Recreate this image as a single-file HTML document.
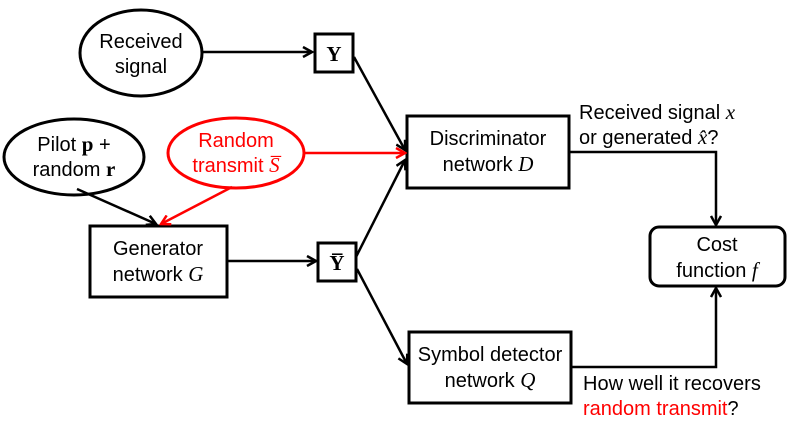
<!DOCTYPE html>
<html><head><style>
body{margin:0;background:#fff;}
svg text{font-family:"Liberation Sans",sans-serif;font-size:20px;}
.m{font-family:"Liberation Serif",serif;font-style:italic;font-size:21px;}
.b{font-family:"Liberation Serif",serif;font-weight:bold;font-size:21px;}
</style></head><body>
<svg width="789" height="424" viewBox="0 0 789 424" xmlns="http://www.w3.org/2000/svg">
<defs>
<marker id="a" markerWidth="12" markerHeight="12" refX="10" refY="6" orient="auto" markerUnits="userSpaceOnUse">
<path d="M1,1 L10,6 L1,11" fill="none" stroke="#000" stroke-width="2.5"/></marker>
<marker id="r" markerWidth="12" markerHeight="12" refX="10" refY="6" orient="auto" markerUnits="userSpaceOnUse">
<path d="M1,1 L10,6 L1,11" fill="none" stroke="#f00" stroke-width="2.5"/></marker>
</defs>
<g fill="none" stroke="#000" stroke-width="3">
<ellipse cx="141" cy="53" rx="61" ry="43"/>
<ellipse cx="74" cy="157" rx="70" ry="38"/>
<ellipse cx="236" cy="153" rx="68" ry="35" stroke="#f00"/>
<rect x="315" y="34" width="38" height="38"/>
<rect x="318" y="243" width="38" height="38"/>
<rect x="90" y="226" width="137" height="71"/>
<rect x="407" y="116" width="162" height="72"/>
<rect x="409" y="332" width="162" height="71"/>
<rect x="650" y="227" width="135" height="59" rx="9"/>
</g>
<g fill="none" stroke="#000" stroke-width="2.5">
<line x1="203" y1="52" x2="312" y2="52" marker-end="url(#a)"/>
<line x1="354" y1="57" x2="405" y2="150" marker-end="url(#a)"/>
<line x1="356" y1="257" x2="405" y2="160" marker-end="url(#a)"/>
<line x1="357" y1="269" x2="407" y2="364" marker-end="url(#a)"/>
<line x1="77" y1="189" x2="156" y2="224" marker-end="url(#a)"/>
<line x1="227" y1="261" x2="316" y2="261" marker-end="url(#a)"/>
<polyline points="569,152 716,152 716,225" marker-end="url(#a)"/>
<polyline points="571,367 716,367 716,288" marker-end="url(#a)"/>
<line x1="304" y1="153" x2="405" y2="153" stroke="#f00" marker-end="url(#r)"/>
<line x1="232" y1="187" x2="161" y2="224" stroke="#f00" marker-end="url(#r)"/>
</g>
<g text-anchor="middle">
<text x="141" y="48">Received</text><text x="141" y="73">signal</text>
<text x="74" y="151">Pilot <tspan class="b">p</tspan> +</text><text x="74" y="176">random <tspan class="b">r</tspan></text>
<text x="236" y="147" fill="#f00">Random</text><text x="236" y="172" fill="#f00">transmit <tspan class="m">S̅</tspan></text>
<text x="334" y="61" class="b">Y</text>
<text x="337" y="270" class="b">Y̅</text>
<text x="158" y="255">Generator</text><text x="158" y="281">network <tspan class="m">G</tspan></text>
<text x="488" y="145">Discriminator</text><text x="488" y="171">network <tspan class="m">D</tspan></text>
<text x="490" y="361">Symbol detector</text><text x="490" y="387">network <tspan class="m">Q</tspan></text>
<text x="717" y="251">Cost</text><text x="717" y="277">function <tspan class="m">f</tspan></text>
</g>
<text x="579" y="119">Received signal <tspan class="m">x</tspan></text>
<text x="579" y="144">or generated <tspan class="m">x̂</tspan>?</text>
<text x="583" y="390">How well it recovers</text>
<text x="583" y="415"><tspan fill="#f00">random transmit</tspan>?</text>
</svg>
</body></html>
